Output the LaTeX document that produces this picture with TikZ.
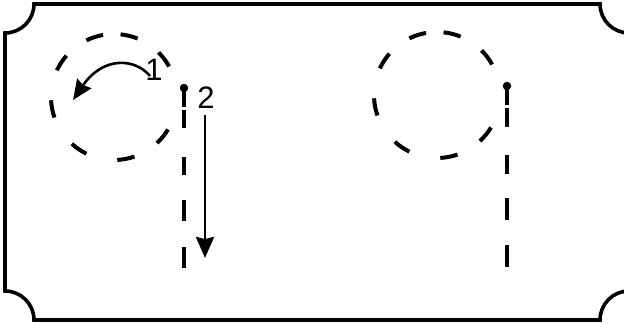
\documentclass[tikz,border=0pt]{standalone}
\usepackage{fontspec}
\setmainfont{Liberation Sans}
\usetikzlibrary{arrows.meta}
\begin{document}
\begin{tikzpicture}[x=1pt,y=-1pt,
  frame/.style={line width=3.6pt, line join=miter},
  ring/.style={line width=4pt},
  pole/.style={line width=3.6pt},
  move/.style={line width=2.6pt},
  pin/.style={circle, fill=black, inner sep=0pt, minimum size=8.5pt},
  lbl/.style={inner sep=0pt, font=\fontsize{31}{31}\selectfont}]
\useasboundingbox (0,0) rectangle (624,324);
% frame with concave corners
\draw[frame] (34,4) -- (600,4)
  arc[start angle=180, end angle=90, radius=29] -- (629,291)
  arc[start angle=270, end angle=180, radius=29] -- (34,320)
  arc[start angle=0, end angle=-90, radius=29] -- (5,33)
  arc[start angle=90, end angle=0, radius=29] -- cycle;
% dashed circles
\coordinate (c1) at (114,97);
\coordinate (c2) at (437,95);
\foreach \a in {37,76,108,147,191,236,281,321}{
  \draw[ring] (c1) ++(-\a-8:63) arc[start angle=-\a-8, end angle=-\a+8, radius=63];
  \draw[ring] (c2) ++(-\a-8:63) arc[start angle=-\a-8, end angle=-\a+8, radius=63];
}
% poles
\node[pin] (p1) at (184,88) {};
\node[pin] (p2) at (507,86) {};
\coordinate (p1s) at (184,107);
\coordinate (p2s) at (507,105);
\draw[pole] (p1.center) -- (p1s);
\draw[pole] (p2.center) -- (p2s);
\foreach \s/\e in {110/128,157/175,200/221,247/268}{
  \draw[pole] (184,\s) -- (184,\e);
  \draw[pole] (507,\s-2) -- (507,\e-1);
}
% arrow 2
\coordinate (a2s) at (205,115);
\coordinate (a2e) at (205,258);
\draw[move,-{Stealth[length=21pt,width=18pt,inset=2pt]}] (a2s) -- (a2e);
% arrow 1
\coordinate (a1s) at (150,76);
\coordinate (a1e) at (73,100);
\draw[move,-{Stealth[length=20pt,width=17pt,inset=2pt]}] (a1s) .. controls (135,58) and (103,56) .. (a1e);
% labels
\node[lbl] (l1) at (154,70) {1};
\node[lbl] (l2) at (206,98) {2};
\end{tikzpicture}
\end{document}
